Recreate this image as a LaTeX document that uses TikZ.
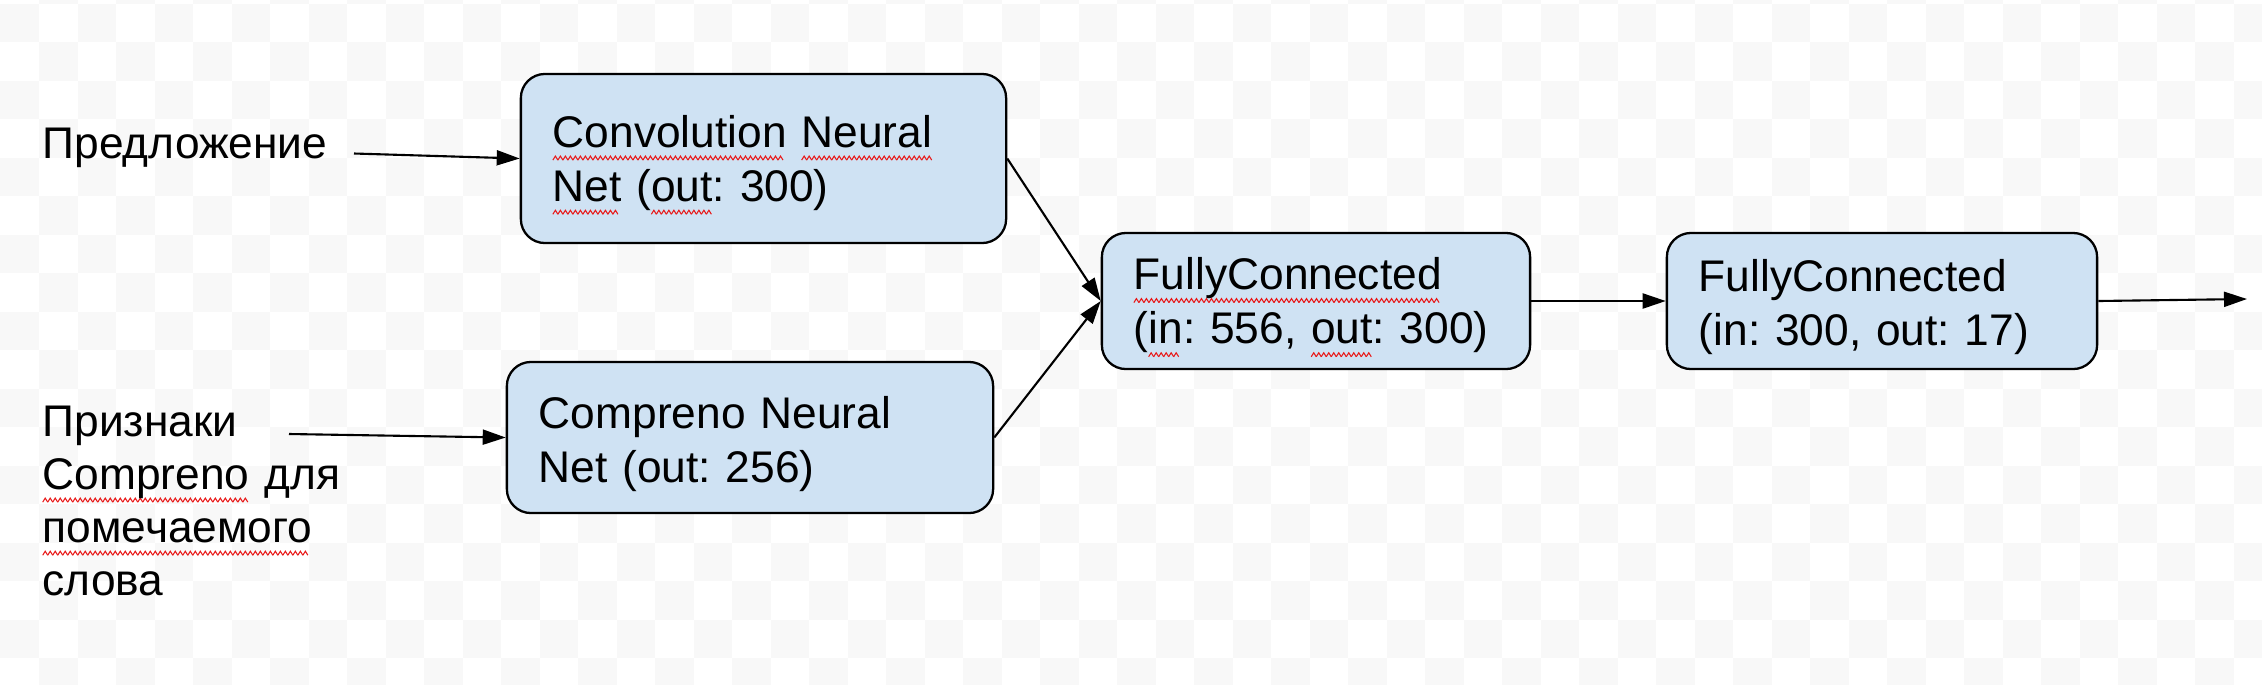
\documentclass[tikz,border=0pt]{standalone}
\usepackage{fontspec}
\setmainfont{Liberation Sans}
\usetikzlibrary{arrows.meta}
\frenchspacing
\definecolor{boxblue}{RGB}{207,226,243}
\definecolor{checker}{RGB}{248,248,248}
\definecolor{spellred}{RGB}{232,24,24}
\newcommand{\boxfont}{\fontsize{12.6pt}{15.4pt}\selectfont}
\newcommand{\lblfont}{\fontsize{12.6pt}{15.1pt}\selectfont}
% red wavy underline, one period per mark
\newcommand{\zig}{\lower0.13cm\hbox{\tikz{\useasboundingbox (0cm,0cm) rectangle (0.05cm,0.04cm);
  \draw[draw=spellred, fill=none, sharp corners, line width=0.3pt] (0cm,0cm)--(0.025cm,0.04cm)--(0.05cm,0cm);}}}
\newsavebox{\spellbox}
\newcommand{\spell}[1]{\sbox{\spellbox}{#1}\leavevmode\rlap{\hbox to \wd\spellbox{\leaders\hbox{\zig}\hfill}}\usebox{\spellbox}}

\begin{document}
\begin{tikzpicture}[x=0.01cm, y=-0.01cm, >={Triangle[length=0.23cm, width=0.15cm]},
  nnbox/.style={draw, line width=0.65pt, fill=boxblue, rounded corners=0.24cm, align=left,
    inner xsep=0.32cm, inner ysep=0pt, font=\boxfont, execute at begin node={\rule{0pt}{1em}}},
  lbl/.style={inner sep=0pt, align=left, text width=4cm, font=\lblfont, execute at begin node={\rule{0pt}{1em}}},
  conn/.style={->, line width=0.6pt}]
\useasboundingbox (0,0) rectangle (2262,684);
% background
\foreach \j in {-1,...,17}
  \foreach \i in {0,...,30}
    \fill[checker] ({0.5+38.5*(2*\i+mod(\j+2,2))}, {3.5+38.5*\j}) rectangle ++(38.5,38.5);

\node[lbl, anchor=north west] (sent) at (42,113) {Предложение};
\node[lbl, anchor=north west] (feat) at (42,391) {Признаки\\ \spell{Compreno} для\\ \spell{помечаемого}\\ слова};

\node[nnbox, text width=4.21cm, minimum height=1.69cm] (cnn) at (763.5,158.5) {\spell{Convolution} \spell{Neural}\\ \spell{Net} (\spell{out}: 300)};
\node[nnbox, text width=4.22cm, minimum height=1.51cm] (comp) at (750,437.5) {Compreno Neural\\ Net (out: 256)};
\node[nnbox, text width=3.64cm, minimum height=1.36cm] (fc1) at (1316,301) {\spell{FullyConnected}\\ (\spell{in}: 556, \spell{out}: 300)};
\node[nnbox, text width=3.66cm, minimum height=1.36cm] (fc2) at (1882,301) {FullyConnected\\ (in: 300, out: 17)};

\coordinate (sentout) at (354,153.5);
\coordinate (featout) at (289,434);
\coordinate (out) at (2247,299);

\draw[conn] (sentout) -- (cnn.west);
\draw[conn] (featout) -- (comp.west);
\draw[conn] (cnn.east) -- (fc1.west);
\draw[conn] (comp.east) -- (fc1.west);
\draw[conn] (fc1.east) -- (fc2.west);
\draw[conn] (fc2.east) -- (out);

\end{tikzpicture}
\end{document}
